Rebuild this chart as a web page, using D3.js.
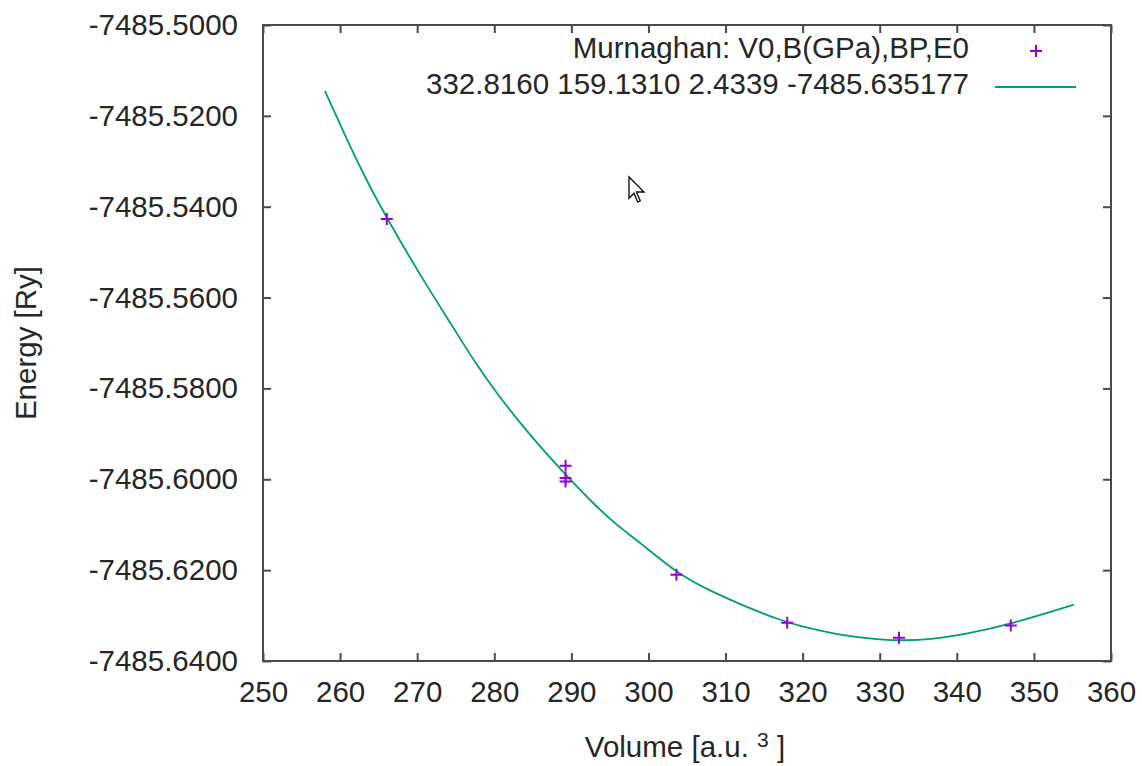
<!DOCTYPE html>
<html>
<head>
<meta charset="utf-8">
<script src="https://cdn.jsdelivr.net/npm/d3@7"></script>
<style>
  body { margin: 0; background: #fff; }
  text { font-family: "Liberation Sans", Arial, sans-serif; fill: #262626; }
</style>
</head>
<body>
<script>
// measured points (volume, energy)
var pointV = [266.06, 289.25, 289.25, 289.25, 303.63, 318.0, 332.5, 347.0];
var pointE = [-7485.5427, -7485.5970, -7485.5997, -7485.6005, -7485.6210, -7485.6316, -7485.6349, -7485.6322];

// fitted Murnaghan curve
var fitV = [258.03, 261.01, 263.60, 266.06, 270.60, 274.61, 277.85, 280.31, 283.68, 288.60,
            293.39, 295.98, 298.83, 303.63, 307.90, 312.69, 316.97, 319.30, 324.74, 329.92,
            333.2, 336.40, 341.19, 347.15, 355.18];
var fitE = [-7485.5145, -7485.5257, -7485.5348, -7485.5425, -7485.5557, -7485.5664, -7485.5752, -7485.5810, -7485.5884, -7485.5979,
            -7485.6063, -7485.6102, -7485.6138, -7485.6206, -7485.6245, -7485.6281, -7485.6309, -7485.6322, -7485.6343, -7485.6353,
            -7485.6355, -7485.6353, -7485.6341, -7485.6318, -7485.6276];

var xTicks = [250, 260, 270, 280, 290, 300, 310, 320, 330, 340, 350, 360];
var yTicks = [-7485.64, -7485.62, -7485.60, -7485.58, -7485.56, -7485.54, -7485.52, -7485.50];

var legend1 = "Murnaghan: V0,B(GPa),BP,E0";
var legend2 = "332.8160 159.1310 2.4339 -7485.635177";

var w = 1142, h = 766;
var pLeft = 263, pRight = 1111, pTop = 25, pBottom = 661;
var fs = 29.5;

var svg = d3.select("body").append("svg")
    .attr("width", w)
    .attr("height", h);

var x = d3.scaleLinear().domain([250, 360]).range([pLeft, pRight]);
var y = d3.scaleLinear().domain([-7485.64, -7485.50]).range([pBottom, pTop]);

var axisCol = "#4a4a4a";
var tickLen = 8;

function styleTicks(g) {
    g.select(".domain").remove();
    g.selectAll("line").attr("stroke", axisCol).attr("stroke-width", 2);
    g.selectAll("text").attr("font-size", fs)
        .attr("font-family", "Liberation Sans, Arial, sans-serif").attr("fill", "#262626");
}

// ticks, all four sides pointing inward
svg.append("g").attr("transform", "translate(0," + pBottom + ")")
    .call(d3.axisBottom(x).tickValues(xTicks).tickSize(-tickLen).tickPadding(20).tickFormat(d3.format("d")))
    .call(styleTicks);

svg.append("g").attr("transform", "translate(0," + pTop + ")")
    .call(d3.axisTop(x).tickValues(xTicks).tickSize(-tickLen).tickFormat(""))
    .call(styleTicks);

svg.append("g").attr("transform", "translate(" + pLeft + ",0)")
    .call(d3.axisLeft(y).tickValues(yTicks).tickSize(-tickLen).tickPadding(25)
        .tickFormat(function(d) { return d.toFixed(4); }))
    .call(styleTicks);

svg.append("g").attr("transform", "translate(" + pRight + ",0)")
    .call(d3.axisRight(y).tickValues(yTicks).tickSize(-tickLen).tickFormat(""))
    .call(styleTicks);

// frame
svg.append("rect")
    .attr("x", pLeft).attr("y", pTop)
    .attr("width", pRight - pLeft).attr("height", pBottom - pTop)
    .attr("fill", "none").attr("stroke", axisCol).attr("stroke-width", 2);

// fit curve
var fitData = fitV.map(function(v, i) { return [v, fitE[i]]; });
svg.append("path")
    .datum(fitData)
    .attr("fill", "none")
    .attr("stroke", "#009e73")
    .attr("stroke-width", 1.8)
    .attr("d", d3.line()
        .x(function(d) { return x(d[0]); })
        .y(function(d) { return y(d[1]); })
        .curve(d3.curveBasis));

// data points as crosses
var ptData = pointV.map(function(v, i) { return [v, pointE[i]]; });
svg.selectAll("path.pt")
    .data(ptData)
    .enter()
    .append("path")
    .attr("class", "pt")
    .attr("d", "M-6,0H6M0,-6V6")
    .attr("stroke", "#9400d3")
    .attr("stroke-width", 2)
    .attr("transform", function(d) { return "translate(" + x(d[0]) + "," + y(d[1]) + ")"; });

// legend
svg.append("text")
    .attr("x", 969).attr("y", 50)
    .attr("text-anchor", "end").attr("dominant-baseline", "middle")
    .attr("font-size", fs)
    .text(legend1);
svg.append("path")
    .attr("d", "M-6,0H6M0,-6V6")
    .attr("stroke", "#9400d3").attr("stroke-width", 2)
    .attr("transform", "translate(1036,51)");

svg.append("text")
    .attr("x", 969).attr("y", 86)
    .attr("text-anchor", "end").attr("dominant-baseline", "middle")
    .attr("font-size", fs)
    .text(legend2);
svg.append("line")
    .attr("x1", 995).attr("x2", 1076).attr("y1", 87).attr("y2", 87)
    .attr("stroke", "#009e73").attr("stroke-width", 2);

// axis titles
svg.append("text")
    .attr("transform", "translate(36,343) rotate(-90)")
    .attr("text-anchor", "middle")
    .attr("font-size", fs)
    .text("Energy [Ry]");

var xt = svg.append("text")
    .attr("x", 685).attr("y", 757)
    .attr("text-anchor", "middle")
    .attr("font-size", fs);
xt.append("tspan").text("Volume [a.u. ");
xt.append("tspan").attr("font-size", 21).attr("dy", -10).text("3");
xt.append("tspan").attr("dy", 10).text(" ]");

// mouse pointer left in the screenshot
svg.append("path")
    .attr("d", "M0,0L0,17L4,13L7,20L9,19L6,12L12,12Z")
    .attr("transform", "translate(629,177) scale(1.25)")
    .attr("fill", "#fff").attr("stroke", "#111").attr("stroke-width", 1.1);
</script>
</body>
</html>
